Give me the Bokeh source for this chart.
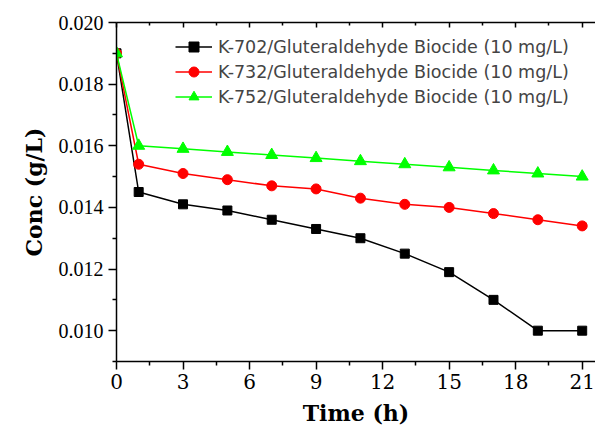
from bokeh.plotting import figure
from bokeh.models import (FixedTicker, PrintfTickFormatter, LinearAxis, Range1d, Legend,
                          LegendItem, CustomJSTickFormatter)
from bokeh.embed import file_html
from bokeh.resources import INLINE

time_h = [0, 1, 3, 5, 7, 9, 11, 13, 15, 17, 19, 21]
k702 = [0.0190, 0.0145, 0.0141, 0.0139, 0.0136, 0.0133, 0.0130, 0.0125, 0.0119, 0.0110, 0.0100, 0.0100]
k732 = [0.0190, 0.0154, 0.0151, 0.0149, 0.0147, 0.0146, 0.0143, 0.0141, 0.0140, 0.0138, 0.0136, 0.0134]
k752 = [0.0190, 0.0160, 0.0159, 0.0158, 0.0157, 0.0156, 0.0155, 0.0154, 0.0153, 0.0152, 0.0151, 0.0150]
labels = ["K-702/Gluteraldehyde Biocide (10 mg/L)",
          "K-732/Gluteraldehyde Biocide (10 mg/L)",
          "K-752/Gluteraldehyde Biocide (10 mg/L)"]
x_ticks = [0, 3, 6, 9, 12, 15, 18, 21]
x_minor = [1.5, 4.5, 7.5, 10.5, 13.5, 16.5, 19.5]
y_ticks = [0.010, 0.012, 0.014, 0.016, 0.018, 0.020]
y_minor = [0.009, 0.011, 0.013, 0.015, 0.017, 0.019]

p = figure(width=595, height=428, output_backend="svg", toolbar_location=None,
           x_range=Range1d(0, 21.6), y_range=Range1d(0.009, 0.020))
p.min_border_left = 116
p.min_border_top = 22
p.min_border_bottom = 66
p.min_border_right = 0
p.outline_line_color = None
p.xgrid.visible = False
p.ygrid.visible = False

for ax in (p.xaxis[0], p.yaxis[0]):
    ax.major_label_text_font_size = "20px"
    ax.major_label_text_color = "black"
    ax.axis_label_text_font = "DejaVu Serif"
    ax.axis_label_text_font_style = "bold"
    ax.axis_label_text_font_size = "22px"
    ax.axis_label_text_color = "black"
    ax.major_tick_in = 0
    ax.major_tick_out = 8
    ax.minor_tick_in = 0
    ax.minor_tick_out = 4
    ax.axis_line_width = 1.5
    ax.major_tick_line_width = 1.5
    ax.minor_tick_line_width = 1.5

p.xaxis[0].major_label_text_font = "'DejaVu Serif'"
p.yaxis[0].major_label_text_font = "serif"

p.xaxis[0].ticker = FixedTicker(ticks=x_ticks, minor_ticks=x_minor)
p.yaxis[0].ticker = FixedTicker(ticks=y_ticks, minor_ticks=y_minor)
p.yaxis[0].formatter = PrintfTickFormatter(format="%.3f")
p.xaxis[0].axis_label = "Time (h)"
p.yaxis[0].axis_label = "Conc (g/L)"
p.xaxis[0].major_label_standoff = 4
p.yaxis[0].major_label_standoff = 5
p.yaxis[0].axis_label_standoff = 9
p.xaxis[0].axis_label_standoff = 8

top = LinearAxis(ticker=FixedTicker(ticks=x_ticks, minor_ticks=x_minor),
                 formatter=CustomJSTickFormatter(code="return '';"),
                 major_tick_in=5, major_tick_out=0,
                 minor_tick_in=3, minor_tick_out=0, axis_line_width=1.5,
                 major_tick_line_width=1.5, minor_tick_line_width=1.5)
p.add_layout(top, "above")

series = [(k702, "black", "square", 9), (k732, "red", "circle", 10), (k752, "lime", "triangle", 12)]
items = []
for (ys, col, mk, sz), lab in zip(series, labels):
    r1 = p.line(time_h, ys, line_color=col, line_width=1.5)
    r2 = p.scatter(time_h, ys, marker=mk, size=sz, fill_color=col, line_color=col)
    items.append(LegendItem(label=lab, renderers=[r1, r2]))

leg = Legend(items=items, location=(59, 252), padding=0, margin=0, spacing=0,
             glyph_width=37, glyph_height=25, label_height=25, label_standoff=6,
             label_text_font="DejaVu Sans", label_text_font_size="17.5px",
             border_line_color=None, background_fill_alpha=0)
p.add_layout(leg, "center")

open("out.html", "w").write(file_html(p, INLINE))
